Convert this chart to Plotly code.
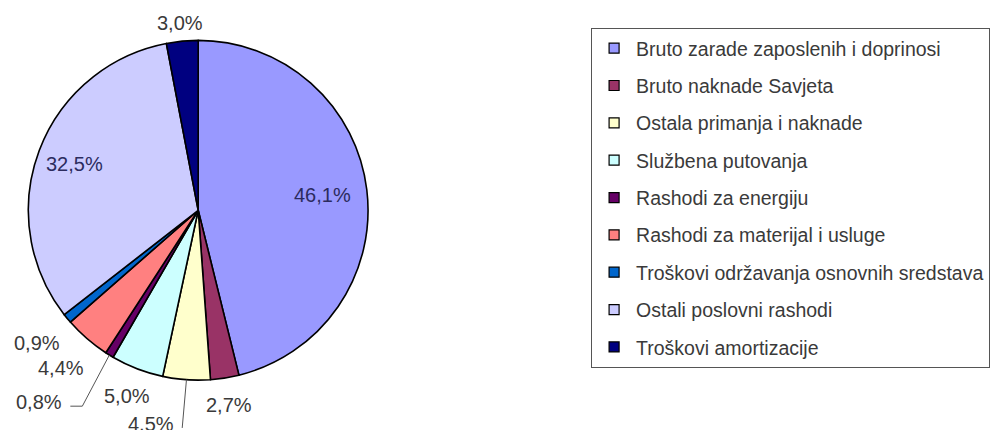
import math
import plotly.graph_objects as go

categories = [
    "Bruto zarade zaposlenih i doprinosi",
    "Bruto naknade Savjeta",
    "Ostala primanja i naknade",
    "Službena putovanja",
    "Rashodi za energiju",
    "Rashodi za materijal i usluge",
    "Troškovi održavanja osnovnih sredstava",
    "Ostali poslovni rashodi",
    "Troškovi amortizacije",
]
values = [46.1, 2.7, 4.5, 5.0, 0.8, 4.4, 0.9, 32.5, 3.0]
colors = ["#9999FF", "#993366", "#FFFFCC", "#CCFFFF", "#660066",
          "#FF8080", "#0066CC", "#CCCCFF", "#000080"]

# label layout (style): distance of each label from the centre, in radii
label_dist = [0.74, 1.16, 1.285, 1.17, 1.34, 1.23, 1.23, 0.78, 1.11]
# labels that were dragged away and are joined to their slice by a leader line
leader_angle = {2: 184.2, 4: 210.6}   # degrees clockwise from 12 o'clock
leader_tail = {2: 0, 4: 12}          # horizontal tail length, px

W, H = 1001, 430
dom_x = [0.028, 0.368]
dom_y = [0.116, 0.906]

fig = go.Figure()
fig.add_trace(go.Pie(
    labels=categories,
    values=values,
    sort=False,
    direction="clockwise",
    rotation=0,
    marker=dict(colors=colors, line=dict(color="#000000", width=1.6)),
    textinfo="none",
    showlegend=False,
    hoverinfo="label+value",
    domain=dict(x=dom_x, y=dom_y),
))

# geometry of the pie as plotly lays it out in its domain
cx = (dom_x[0] + dom_x[1]) / 2 * W
cy = (dom_y[0] + dom_y[1]) / 2 * H
r = min((dom_x[1] - dom_x[0]) * W, (dom_y[1] - dom_y[0]) * H) / 2

def pt(angle_deg, dist):
    a = math.radians(angle_deg)
    return cx + dist * r * math.sin(a), cy + dist * r * math.cos(a)

total = sum(values)
cum = 0.0
annotations, shapes = [], []
for i, v in enumerate(values):
    mid = (cum + v / 2) / total * 360.0
    cum += v
    txt = f"{v:.1f}%".replace(".", ",")
    inside = label_dist[i] < 1
    color = "#2B2B5E" if inside else "#3A3A3A"
    if i in leader_angle:
        x0, y0 = pt(mid, 1.0)
        x1, y1 = pt(leader_angle[i], label_dist[i])
        shapes.append(dict(type="line", xref="paper", yref="paper",
                           x0=x0 / W, y0=y0 / H, x1=x1 / W, y1=y1 / H,
                           line=dict(color="#555555", width=1)))
        x2 = x1 - leader_tail[i]
        if leader_tail[i]:
            shapes.append(dict(type="line", xref="paper", yref="paper",
                               x0=x1 / W, y0=y1 / H, x1=x2 / W, y1=y1 / H,
                               line=dict(color="#555555", width=1)))
        annotations.append(dict(x=(x2 - 6) / W, y=(y1 + 4) / H, xref="paper",
                                yref="paper", text=txt, showarrow=False,
                                xanchor="right", yanchor="middle",
                                font=dict(size=20, color=color)))
    else:
        x, y = pt(mid, label_dist[i])
        annotations.append(dict(x=x / W, y=y / H, xref="paper", yref="paper",
                                text=txt, showarrow=False,
                                xanchor="center", yanchor="middle",
                                font=dict(size=20, color=color)))

for name, col in zip(categories, colors):
    fig.add_trace(go.Scatter(
        x=[None], y=[None], mode="markers", name=name, legendgroup=name,
        marker=dict(symbol="square", size=10, color=col,
                    line=dict(color="#000000", width=1.2)),
    ))

fig.update_layout(
    width=W, height=H,
    margin=dict(l=0, r=0, t=0, b=0),
    paper_bgcolor="white", plot_bgcolor="white",
    font=dict(family="Liberation Sans, Arial", size=19, color="#3A3A3A"),
    xaxis=dict(visible=False), yaxis=dict(visible=False),
    annotations=annotations,
    shapes=shapes,
    legend=dict(
        x=0.5905, y=0.935, xanchor="left", yanchor="top",
        bordercolor="#555555", borderwidth=1,
        tracegroupgap=9,
        itemwidth=34,
        font=dict(family="Liberation Sans, Arial", size=19.5, color="#3A3A3A"),
        itemclick=False,
    ),
)

fig.write_html("out.html", config={"displayModeBar": False})
with open("out.html", encoding="utf-8") as f:
    html = f.read()
html = html.replace("<body>", '<body style="margin:0;overflow:hidden">', 1)
with open("out.html", "w", encoding="utf-8") as f:
    f.write(html)
